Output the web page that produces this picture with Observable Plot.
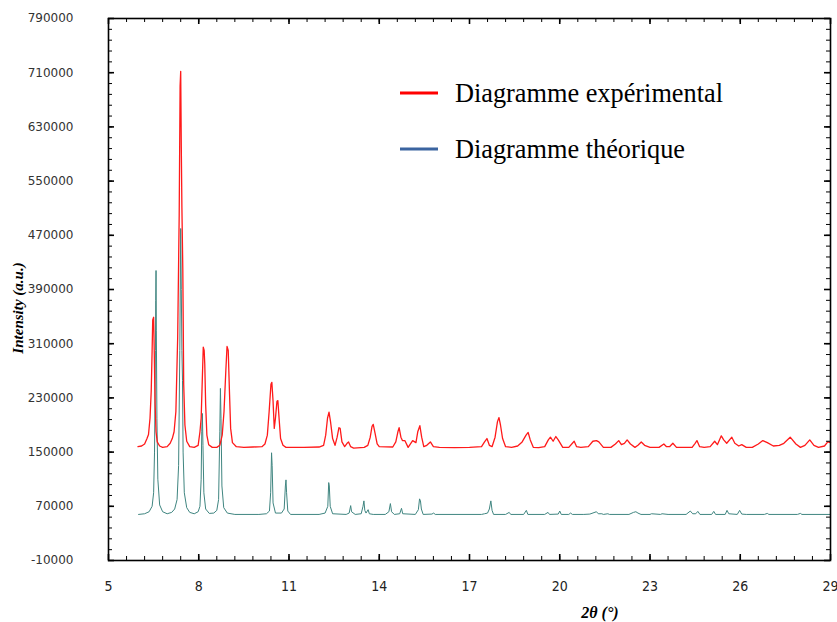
<!DOCTYPE html>
<html><head><meta charset="utf-8">
<script src="https://cdn.jsdelivr.net/npm/d3@7"></script>
<script src="https://cdn.jsdelivr.net/npm/@observablehq/plot@0.6"></script>
<style>
body{margin:0;background:#fff}
#chart{position:relative;width:837px;height:622px}
</style>
</head><body><div id="chart"></div>
<script>
// 2θ (°), intensity (a.u.)
const experimental = [
[5.98,158000],[6.1,159000],[6.2,162000],[6.28,170000],[6.33,176000],[6.38,200000],[6.42,240000],[6.45,300000],[6.47,345000],[6.5,349000],[6.52,300000],[6.55,220000],[6.58,180000],[6.62,165000],[6.7,159000],[6.8,157000],[6.95,158000],
[7.05,163000],[7.12,170000],[7.18,180000],[7.24,210000],[7.3,320000],[7.35,500000],[7.38,690000],[7.4,712000],[7.42,600000],[7.44,511000],[7.47,420000],[7.5,250000],[7.54,190000],[7.6,166000],[7.7,158000],[7.85,157000],
[7.98,160000],[8.04,180000],[8.08,200000],[8.12,260000],[8.15,305000],[8.18,300000],[8.2,280000],[8.23,220000],[8.27,175000],[8.33,161000],[8.45,157000],[8.6,157000],
[8.7,160000],[8.78,175000],[8.84,210000],[8.9,270000],[8.94,306000],[8.98,300000],[9.02,240000],[9.06,185000],[9.12,164000],[9.25,158000],[9.5,157000],[9.8,157500],
[10.1,158000],[10.2,162000],[10.28,175000],[10.34,210000],[10.4,250000],[10.43,253000],[10.47,225000],[10.51,185000],[10.55,200000],[10.6,225000],[10.63,226000],[10.67,200000],[10.72,170000],[10.8,160000],[10.9,157000],[11.5,157000],
[12.0,157500],[12.15,160000],[12.22,175000],[12.28,200000],[12.33,209000],[12.38,195000],[12.45,170000],[12.53,160000],[12.6,172000],[12.66,186000],[12.7,185000],[12.76,165000],[12.85,158000],[12.93,163000],[12.98,165000],[13.05,158000],[13.15,156000],
[13.5,157000],[13.62,160000],[13.7,172000],[13.76,188000],[13.8,191000],[13.86,178000],[13.93,162000],[14.0,158000],
[14.45,157500],[14.55,165000],[14.62,180000],[14.66,186000],[14.72,172000],[14.77,167000],[14.85,167000],[14.96,157000],[15.11,167000],[15.22,164000],[15.28,180000],[15.35,189000],[15.41,172000],[15.48,158000],[15.58,160000],[15.7,165000],[15.8,158000],
[16.0,157000],[16.5,156500],[17.0,157000],[17.4,158000],[17.5,165000],[17.58,170000],[17.66,160000],[17.75,158000],[17.85,172000],[17.93,195000],[17.98,201000],[18.03,190000],[18.1,170000],[18.2,158000],
[18.4,157000],[18.6,159000],[18.75,165000],[18.88,175000],[18.95,179000],[19.02,168000],[19.12,157000],[19.3,156500],
[19.5,158000],[19.62,168000],[19.69,172000],[19.78,166000],[19.87,173000],[19.95,168000],[20.1,157000],[20.3,157000],[20.42,163000],[20.48,166000],[20.56,158000],[20.7,157000],
[20.95,158000],[21.1,166000],[21.22,167000],[21.3,165000],[21.45,157000],[21.7,157000],[21.85,162000],[21.96,167000],[22.05,161000],[22.15,163000],[22.24,168000],[22.35,162000],[22.5,157000],[22.6,160000],[22.71,165000],[22.82,160000],[23.0,157000],
[23.3,157000],[23.46,162000],[23.55,158000],[23.65,158000],[23.76,163000],[23.88,157000],[24.2,157000],[24.4,157000],[24.5,163000],[24.56,167000],[24.65,158000],[24.8,157000],
[25.0,158000],[25.15,166000],[25.24,161000],[25.37,174000],[25.45,168000],[25.55,163000],[25.72,172000],[25.82,163000],[25.95,159000],[26.05,161000],[26.2,157000],
[26.4,157000],[26.6,162000],[26.75,167000],[26.9,164000],[27.1,159000],[27.3,160000],[27.45,163000],[27.66,172000],[27.85,162000],[28.0,157000],[28.15,160000],[28.31,168000],[28.45,160000],[28.6,157000],[28.8,159000],[28.91,165000],[29.0,164000]
];
const theoretical = [
[6.0,58000],[6.2,59000],[6.35,62000],[6.45,70000],[6.5,90000],[6.53,150000],[6.56,300000],[6.57,374000],[6.58,418000],[6.59,330000],[6.61,200000],[6.64,110000],[6.7,72000],[6.8,62000],[6.95,59000],
[7.1,61000],[7.2,66000],[7.28,80000],[7.33,130000],[7.37,300000],[7.4,480000],[7.42,390000],[7.44,300000],[7.46,256000],[7.48,150000],[7.52,90000],[7.6,68000],[7.7,61000],[7.85,59000],
[7.98,62000],[8.04,70000],[8.08,110000],[8.1,180000],[8.12,207000],[8.14,160000],[8.17,90000],[8.23,66000],[8.35,59500],
[8.5,60000],[8.6,64000],[8.66,80000],[8.7,180000],[8.72,244000],[8.74,200000],[8.77,100000],[8.83,68000],[8.95,60000],[9.2,58000],
[10.0,58000],[10.25,59000],[10.35,63000],[10.39,90000],[10.42,149000],[10.44,130000],[10.47,75000],[10.55,60000],[10.75,60000],[10.84,66000],[10.88,100000],[10.9,109000],[10.92,90000],[10.96,63000],[11.05,58000],
[12.0,58000],[12.2,60000],[12.29,70000],[12.32,105000],[12.34,100000],[12.37,70000],[12.45,59000],[12.9,58000],[13.0,60000],[13.05,71000],[13.08,62000],[13.2,58000],
[13.4,59000],[13.46,70000],[13.49,78000],[13.52,64000],[13.56,60000],[13.63,65000],[13.67,59000],[13.8,58000],[14.2,58000],[14.32,62000],[14.37,74000],[14.41,62000],[14.5,58000],[14.68,59000],[14.74,67000],[14.78,59000],
[15.2,58000],[15.3,65000],[15.34,81000],[15.37,78000],[15.4,66000],[15.46,58000],[15.75,58500],[15.81,60000],[15.86,58000],
[17.4,58000],[17.5,59000],[17.6,60000],[17.66,66000],[17.71,78000],[17.75,64000],[17.8,58000],[18.2,58000],[18.32,61000],[18.37,58000],[18.8,58000],[18.89,64000],[18.94,58000],
[19.5,58000],[19.61,61000],[19.66,58000],[19.95,58500],[20.0,63000],[20.05,58000],[20.3,58000],[20.36,60000],[20.42,58000],[20.8,58000],[21.0,58500],[21.22,62000],[21.28,59000],[21.4,59000],[21.45,58000],[21.6,59000],[21.65,58000],
[22.3,58000],[22.45,61000],[22.53,62000],[22.6,60000],[22.7,58000],[23.0,58000],[23.05,59000],[23.35,58000],[23.4,59000],[23.6,58000],
[24.2,58000],[24.34,63000],[24.42,59000],[24.52,59000],[24.59,62500],[24.66,58000],[25.05,58000],[25.12,62500],[25.18,58000],[25.5,58000],[25.56,64000],[25.62,59000],[25.9,58000],[25.98,64000],[26.05,58500],
[26.2,58000],[26.8,58000],[26.9,59500],[26.95,58000],[27.9,58000],[28.0,59500],[28.05,58000],[29.0,58000]
];
const xTicks = [5,8,11,14,17,20,23,26,29];
const yTicks = [-10000,70000,150000,230000,310000,390000,470000,550000,630000,710000,790000];
const seriesNames = ["Diagramme expérimental","Diagramme théorique"];
const legendColors = ["#ff0000","#3b64a0"];
const xTitle = "2θ (°)";
const yTitle = "Intensity (a.u.)";

const W = 837, H = 622, mL = 108, mR = 7, mT = 18, mB = 62;
const pw = W - mL - mR, ph = H - mT - mB;
const xMinor = d3.range(0, 41).map(i => 5 + i * 0.6);
const yMinor = d3.range(0, 51).map(i => -10000 + i * 16000);
const exp = experimental.map(([x, y]) => ({x, y}));
const th = theoretical.map(([x, y]) => ({x, y}));

const plot = Plot.plot({
  width: W, height: H,
  marginLeft: mL, marginRight: mR, marginTop: mT, marginBottom: mB,
  x: {domain: [5, 29]},
  y: {domain: [-10000, 790000]},
  style: {background: "#fff", overflow: "visible"},
  marks: [
    Plot.line(th, {x: "x", y: "y", stroke: "#3f8580", strokeWidth: 1}),
    Plot.line(exp, {x: "x", y: "y", stroke: "#ff1a1a", strokeWidth: 1.3}),
    Plot.tickX(xMinor, {x: d => d, insetTop: ph - 4, stroke: "#000"}),
    Plot.tickX(xMinor, {x: d => d, insetBottom: ph - 4, stroke: "#000"}),
    Plot.tickX(xTicks, {x: d => d, insetTop: ph - 6, stroke: "#000", strokeWidth: 1.6}),
    Plot.tickX(xTicks, {x: d => d, insetBottom: ph - 6, stroke: "#000", strokeWidth: 1.6}),
    Plot.tickY(yMinor, {y: d => d, insetRight: pw - 4, stroke: "#000"}),
    Plot.tickY(yMinor, {y: d => d, insetLeft: pw - 4, stroke: "#000"}),
    Plot.tickY(yTicks, {y: d => d, insetRight: pw - 6, stroke: "#000", strokeWidth: 1.6}),
    Plot.tickY(yTicks, {y: d => d, insetLeft: pw - 6, stroke: "#000", strokeWidth: 1.6}),
    Plot.frame({stroke: "#000", strokeWidth: 1.6}),
    Plot.axisX(xTicks, {tickSize: 0, tickPadding: 21, fontSize: 14, fill: "#222",
      fontFamily: "'Liberation Sans Narrow','DejaVu Sans Condensed',sans-serif", label: null}),
    Plot.axisY(yTicks, {tickSize: 0, tickPadding: 35, fontSize: 12, fill: "#333",
      fontFamily: "'DejaVu Sans',sans-serif", label: null, tickFormat: d => String(d)})
  ]
});
document.getElementById("chart").appendChild(plot);

const svg = d3.select(plot);
svg.selectAll("g[aria-label='x-axis tick label'] text").attr("font-stretch", "condensed");
svg.append("text").text(yTitle)
  .attr("transform", "translate(23,308) rotate(-90)")
  .attr("text-anchor", "middle")
  .attr("font-family", "'Liberation Serif','DejaVu Serif',serif")
  .attr("font-weight", "bold").attr("font-style", "italic").attr("font-size", 15).attr("fill", "#000");
svg.append("text").text(xTitle)
  .attr("x", 600).attr("y", 618)
  .attr("text-anchor", "middle")
  .attr("font-family", "'Liberation Serif','DejaVu Serif',serif")
  .attr("font-weight", "bold").attr("font-style", "italic").attr("font-size", 16).attr("fill", "#000");

const lg = svg.append("g");
seriesNames.forEach((name, i) => {
  const y0 = 93 + i * 56;
  lg.append("line").attr("x1", 400).attr("x2", 438).attr("y1", y0).attr("y2", y0)
    .attr("stroke", legendColors[i]).attr("stroke-width", 3);
  lg.append("text").text(name).attr("x", 455).attr("y", y0 + 9)
    .attr("text-anchor", "start")
    .attr("font-family", "'Liberation Serif','Times New Roman',serif")
    .attr("font-size", 26.3).attr("fill", "#000");
});
</script>
</body></html>
